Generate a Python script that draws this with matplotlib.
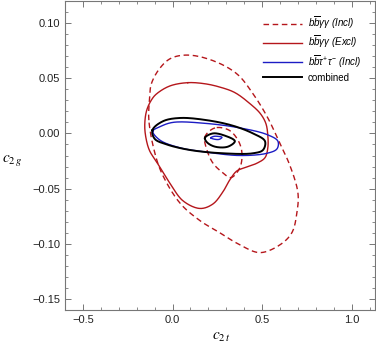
import numpy as np
import matplotlib
matplotlib.use('Agg')
import matplotlib.pyplot as plt
from matplotlib.ticker import MultipleLocator

# contour points (c2t, c2g)
incl_yy_outer = [(-0.132, 0.012), (-0.129, 0.030), (-0.118, 0.045), (-0.071, 0.059),
                 (-0.010, 0.068), (0.085, 0.071), (0.225, 0.066), (0.359, 0.054),
                 (0.449, 0.036), (0.532, 0.014), (0.599, -0.009), (0.655, -0.029),
                 (0.700, -0.054), (0.694, -0.072), (0.666, -0.090), (0.599, -0.101),
                 (0.488, -0.108), (0.376, -0.101), (0.264, -0.090), (0.153, -0.079),
                 (0.041, -0.063), (-0.060, -0.036), (-0.103, -0.015)]
incl_yy_inner = [(0.237, 0.005), (0.181, -0.003), (0.192, -0.015), (0.226, -0.027),
                 (0.276, -0.035), (0.326, -0.040), (0.376, -0.031), (0.387, -0.017),
                 (0.365, -0.006), (0.315, 0.003)]
excl_yy = [(0.085, 0.046), (-0.015, 0.043), (-0.088, 0.036), (-0.115, 0.031),
           (-0.144, 0.021), (-0.155, 0.007), (-0.146, -0.006), (-0.127, -0.016),
           (-0.088, -0.026), (-0.054, -0.035), (-0.015, -0.045), (0.058, -0.061),
           (0.153, -0.068), (0.225, -0.064), (0.281, -0.053), (0.320, -0.042),
           (0.359, -0.034), (0.404, -0.031), (0.471, -0.027), (0.516, -0.022),
           (0.532, -0.013), (0.532, -0.002), (0.521, 0.009), (0.490, 0.018),
           (0.432, 0.027), (0.348, 0.037), (0.264, 0.042), (0.181, 0.045)]
tautau_outer = [(-0.110, 0.002), (-0.071, 0.006), (0.002, 0.010), (0.192, 0.009),
                (0.376, 0.005), (0.527, -0.001), (0.588, -0.007), (0.583, -0.014),
                (0.527, -0.018), (0.376, -0.020), (0.192, -0.017), (0.041, -0.013),
                (-0.071, -0.006)]
tautau_inner = [(0.214, -0.0040), (0.230, -0.0027), (0.250, -0.0026), (0.276, -0.0035),
                (0.262, -0.0053), (0.240, -0.0054)]
comb_outer = [(-0.112, 0.003), (-0.054, 0.011), (0.041, 0.014), (0.192, 0.012),
              (0.337, 0.007), (0.449, 0.000), (0.516, -0.007), (0.505, -0.015),
              (0.449, -0.018), (0.281, -0.018), (0.097, -0.015), (-0.032, -0.010),
              (-0.099, -0.005)]
comb_inner = [(0.181, -0.004), (0.225, 0.000), (0.292, -0.002), (0.348, -0.007),
              (0.309, -0.012), (0.237, -0.012), (0.192, -0.008)]

labels = [r'$b\overline{b}\gamma\gamma$ (Incl)', r'$b\overline{b}\gamma\gamma$ (Excl)',
          r'$b\overline{b}\tau^{+}\tau^{-}$ (Incl)', 'combined']

red = '#b5161b'
blue = '#1c1cc4'
YSCALE = 6.18  # y units -> x units on screen

plt.rcParams['mathtext.fontset'] = 'custom'
plt.rcParams['mathtext.rm'] = 'Liberation Sans'
plt.rcParams['mathtext.it'] = 'Liberation Sans:italic'
plt.rcParams['font.family'] = 'Liberation Sans'


def closed(pts, n=20):
    # smooth closed curve through the points (centripetal catmull-rom)
    p = np.array(pts, dtype=float)
    p[:, 1] *= YSCALE
    m = len(p)
    out = []
    for i in range(m):
        p0, p1, p2, p3 = p[(i - 1) % m], p[i], p[(i + 1) % m], p[(i + 2) % m]
        t0 = 0.0
        t1 = t0 + np.linalg.norm(p1 - p0) ** 0.5
        t2 = t1 + np.linalg.norm(p2 - p1) ** 0.5
        t3 = t2 + np.linalg.norm(p3 - p2) ** 0.5
        t = np.linspace(t1, t2, n, endpoint=False)[:, None]
        a1 = (t1 - t) / (t1 - t0) * p0 + (t - t0) / (t1 - t0) * p1
        a2 = (t2 - t) / (t2 - t1) * p1 + (t - t1) / (t2 - t1) * p2
        a3 = (t3 - t) / (t3 - t2) * p2 + (t - t2) / (t3 - t2) * p3
        b1 = (t2 - t) / (t2 - t0) * a1 + (t - t0) / (t2 - t0) * a2
        b2 = (t3 - t) / (t3 - t1) * a2 + (t - t1) / (t3 - t1) * a3
        out.append((t2 - t) / (t2 - t1) * b1 + (t - t1) / (t2 - t1) * b2)
    c = np.vstack(out + [out[0][:1]])
    return c[:, 0], c[:, 1] / YSCALE


fig = plt.figure(figsize=(3.76, 3.51), dpi=100)
ax = fig.add_axes([65/376, 1-310/351, 310/376, 309/351])

x, y = closed(incl_yy_outer)
l1, = ax.plot(x, y, color=red, lw=1.0, ls=(0, (4, 2.6)))
x, y = closed(incl_yy_inner)
ax.plot(x, y, color=red, lw=1.0, ls=(0, (4, 2.6)))
x, y = closed(excl_yy)
l2, = ax.plot(x, y, color=red, lw=1.0)
x, y = closed(tautau_outer)
l3, = ax.plot(x, y, color=blue, lw=1.0)
x, y = closed(tautau_inner)
ax.plot(x, y, color=blue, lw=1.0)
x, y = closed(comb_outer)
l4, = ax.plot(x, y, color='black', lw=1.4)
x, y = closed(comb_inner)
ax.plot(x, y, color='black', lw=1.4)

ax.set_xlim(-0.6, 1.13)
ax.set_ylim(-0.16, 0.12)
ax.xaxis.set_major_locator(MultipleLocator(0.5))
ax.xaxis.set_minor_locator(MultipleLocator(0.1))
ax.yaxis.set_major_locator(MultipleLocator(0.05))
ax.yaxis.set_minor_locator(MultipleLocator(0.01))
ax.xaxis.set_major_formatter(plt.FuncFormatter(lambda v, p: f'{v:.1f}'.replace('-', '\u2212')))
ax.yaxis.set_major_formatter(plt.FuncFormatter(lambda v, p: f'{v:.2f}'.replace('-', '\u2212')))
ax.tick_params(which='both', direction='in', top=True, right=True, color='#777777',
               labelsize=8, labelcolor='#222222')
ax.tick_params(which='major', length=4.5, width=0.7)
ax.tick_params(which='minor', length=2.5, width=0.6)
for s in ax.spines.values():
    s.set_color('#777777')
    s.set_linewidth(0.8)

fig.text(221/376, 1-337/351, r'$c_{2\,t}$', ha='center', va='center', fontsize=11,
         math_fontfamily='stix')
fig.text(12/376, 1-160/351, r'$c_{2\,g}$', ha='center', va='center', fontsize=11,
         math_fontfamily='stix')

leg = ax.legend([l1, l2, l3, l4], labels, loc='upper right', frameon=False,
                handlelength=4.0, handletextpad=0.6, labelspacing=0.3,
                borderaxespad=1.0, prop={'style': 'italic', 'size': 7})
for t in leg.get_texts()[3:]:
    t.set_fontstyle('normal')

fig.savefig('out.png', dpi=100)
